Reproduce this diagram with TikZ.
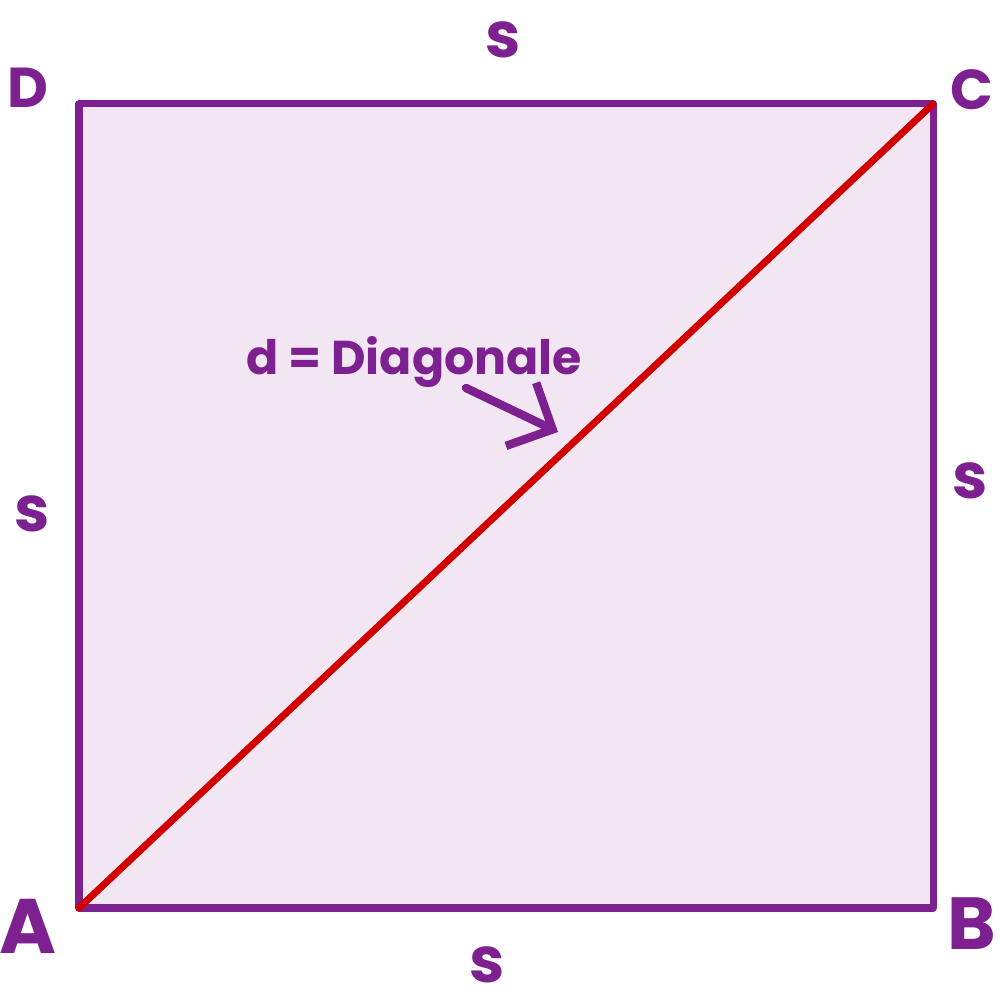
\documentclass[tikz,border=0pt]{standalone}
\usepackage{fontspec}
\setmainfont{Poppins}
\usetikzlibrary{arrows.meta}
\definecolor{pur}{HTML}{7E2190}
\definecolor{lav}{HTML}{F2E6F3}
\definecolor{rd}{HTML}{D00000}
\tikzset{
  lbl/.style={text=pur, font=\fontsize{16}{18}\selectfont\bfseries, inner sep=0pt},
  slbl/.style={text=pur, font=\fontsize{18}{20}\selectfont\bfseries, inner sep=0pt},
  edge/.style={draw=pur, line width=2pt, line join=round},
}
\begin{document}
\begin{tikzpicture}
\useasboundingbox (0,0) rectangle (10,10);
\coordinate (A) at (0.79,0.92);
\coordinate (B) at (9.33,0.92);
\coordinate (C) at (9.33,8.96);
\coordinate (D) at (0.79,8.96);
\fill[lav] (A) rectangle (C);
\draw[edge] (A) -- (B) -- (C) -- (D) -- cycle;
\draw[rd, line width=2pt, line cap=round] (A) -- (C);
\node[lbl] (lD) at (0.28,9.12) {D};
\node[lbl] (lC) at (9.72,9.10) {C};
\node[lbl, font=\fontsize{22}{24}\selectfont\bfseries] (lA) at (0.28,0.74) {A};
\node[lbl, font=\fontsize{21}{23}\selectfont\bfseries] (lB) at (9.72,0.76) {B};
\node[slbl] (sT) at (5.03,9.60) {s};
\node[slbl] (sL) at (0.32,4.86) {s};
\node[slbl] (sR) at (9.70,5.19) {s};
\node[slbl] (sB) at (4.87,0.35) {s};
\node[text=pur, font=\fontsize{13.5}{15}\selectfont\bfseries, inner sep=0pt] (lab) at (4.14,6.38) {d = Diagonale};
\coordinate (arS) at (4.66,6.12);
\coordinate (arE) at (5.58,5.68);
\draw[pur, line width=2.4pt, line cap=round, -{Straight Barb[length=3.5mm, width=7mm, line width=2.4pt]}] (arS) -- (arE);
\end{tikzpicture}
\end{document}
